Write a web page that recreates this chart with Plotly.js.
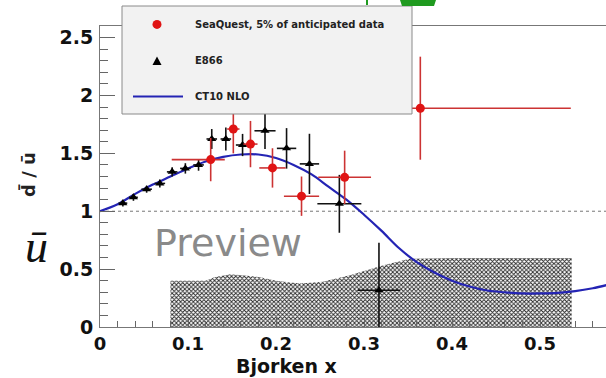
<!DOCTYPE html>
<html><head><meta charset="utf-8">
<script src="https://cdn.plot.ly/plotly-3.0.1.min.js"></script>
<style>html,body{margin:0;padding:0;background:#fff;overflow:hidden}#chart{width:606px;height:378px}</style>
</head><body><div id="chart"></div>
<script>
// ---- E866 (black triangles)
const e866X     = [0.026, 0.038, 0.053, 0.068, 0.082, 0.097, 0.112, 0.127, 0.143, 0.162, 0.1875, 0.212, 0.238, 0.272, 0.317];
const e866Y     = [1.07, 1.12, 1.19, 1.24, 1.34, 1.37, 1.40, 1.624, 1.624, 1.572, 1.695, 1.543, 1.409, 1.064, 0.318];
const e866YErr  = [0.03, 0.03, 0.03, 0.035, 0.04, 0.045, 0.05, 0.086, 0.10, 0.096, 0.158, 0.175, 0.26, 0.25, 0.41];
const e866XErr  = [0.005, 0.005, 0.006, 0.006, 0.006, 0.006, 0.006, 0.006, 0.006, 0.0076, 0.012, 0.011, 0.011, 0.025, 0.024];

// ---- SeaQuest (red circles)
const sqX        = [0.1258, 0.1515, 0.171, 0.196, 0.229, 0.278, 0.364];
const sqY        = [1.446, 1.71, 1.58, 1.374, 1.13, 1.293, 1.89];
const sqYErr     = [0.187, 0.21, 0.20, 0.17, 0.17, 0.23, 0.445];
const sqXErrMinus= [0.0443, 0.007, 0.008, 0.015, 0.02, 0.03, 0.051];
const sqXErrPlus = [0.016, 0.007, 0.008, 0.015, 0.02, 0.03, 0.171];

// ---- CT10 NLO curve
const ctX = [0, 0.02, 0.04, 0.06, 0.08, 0.10, 0.12, 0.14, 0.16, 0.18, 0.20, 0.22, 0.24, 0.26, 0.28, 0.30, 0.32, 0.34, 0.36, 0.38, 0.40, 0.42, 0.44, 0.46, 0.48, 0.50, 0.52, 0.54, 0.56, 0.58];
const ctY = [1.0, 1.06, 1.15, 1.23, 1.30, 1.37, 1.43, 1.47, 1.49, 1.49, 1.46, 1.40, 1.32, 1.21, 1.10, 0.97, 0.83, 0.68, 0.56, 0.47, 0.40, 0.35, 0.315, 0.30, 0.29, 0.29, 0.295, 0.31, 0.335, 0.37];

// ---- systematic band (hatched)
const bandX   = [0.080, 0.10, 0.12, 0.13, 0.148, 0.165, 0.182, 0.20, 0.227, 0.253, 0.284, 0.322, 0.352, 0.40, 0.45, 0.50, 0.536];
const bandTop = [0.40, 0.40, 0.40, 0.43, 0.456, 0.445, 0.43, 0.40, 0.376, 0.39, 0.447, 0.534, 0.59, 0.595, 0.595, 0.595, 0.595];

// ---- axes / labels
const xRange = [0, 0.575];
const yRange = [0, 2.6];
const refLevel = 1;
const legendLabels = ["SeaQuest, 5% of anticipated data", "E866", "CT10 NLO"];

// geometry helpers (pixel -> paper) for legend decoration
const M = {l:100, r:0, t:26, b:51};
const W = 606, H = 378;
const PW = W - M.l - M.r, PH = H - M.t - M.b;
const px = p => (p - M.l) / PW;
const py = p => (H - M.b - p) / PH;

const fam = "DejaVu Sans, sans-serif";
const B = (size, color) => ({family:fam, size:size, color:color || '#111', weight:'bold'});

const traces = [
  {x: bandX, y: bandTop, type:'scatter', mode:'lines', fill:'tozeroy',
   line:{width:0, color:'rgba(0,0,0,0)'},
   fillpattern:{shape:'x', fgcolor:'#262626', bgcolor:'#ffffff', size:3, solidity:0.5},
   hoverinfo:'skip', showlegend:false},
  {x: ctX, y: ctY, type:'scatter', mode:'lines', line:{color:'#2424b4', width:2.2, shape:'spline'}, showlegend:false},
  {x: e866X, y: e866Y, type:'scatter', mode:'markers',
   marker:{symbol:'triangle-up', size:8, color:'#000'},
   error_y:{type:'data', array:e866YErr, visible:true, thickness:1.6, width:0, color:'#111'},
   error_x:{type:'data', array:e866XErr, visible:true, thickness:1.6, width:0, color:'#111'},
   showlegend:false},
  {x: sqX, y: sqY, type:'scatter', mode:'markers',
   marker:{symbol:'circle', size:9, color:'#e01414'},
   error_y:{type:'data', array:sqYErr, visible:true, thickness:1.6, width:0, color:'#cc3333'},
   error_x:{type:'data', symmetric:false, array:sqXErrPlus, arrayminus:sqXErrMinus, visible:true, thickness:1.6, width:0, color:'#cc3333'},
   showlegend:false}
];

const layout = {
  width: W, height: H,
  margin: M,
  paper_bgcolor:'#fff', plot_bgcolor:'#fff',
  showlegend:false,
  xaxis:{range:xRange, dtick:0.1, tick0:0, ticks:'inside', ticklen:10, tickwidth:1, tickcolor:'#666',
         showline:true, linecolor:'#777', linewidth:1, mirror:true, showgrid:false, zeroline:false,
         tickfont:B(18), ticklabelstandoff:0,
         minor:{ticks:'inside', ticklen:6, dtick:0.02, tickcolor:'#666', showgrid:false}},
  yaxis:{range:yRange, dtick:0.5, tick0:0, ticks:'inside', ticklen:15, tickwidth:1, tickcolor:'#666',
         showline:true, linecolor:'#777', linewidth:1, showgrid:false, zeroline:false,
         tickfont:B(19), ticklabelstandoff:2,
         minor:{ticks:'inside', ticklen:8, dtick:0.1, tickcolor:'#666', showgrid:false}},
  shapes:[
    {type:'line', xref:'paper', x0:0, x1:1, yref:'y', y0:refLevel, y1:refLevel,
     line:{color:'#777', width:1, dash:'dot'}, layer:'below'},
    // legend box
    {type:'rect', xref:'paper', yref:'paper', x0:px(122), x1:px(412), y0:py(114), y1:py(6),
     fillcolor:'#f2f2f2', line:{color:'#8a8a8a', width:1}, layer:'above'},
    {type:'circle', xref:'paper', yref:'paper', x0:px(152.5), x1:px(161.5), y0:py(28.9), y1:py(19.9),
     fillcolor:'#e01414', line:{width:0}, layer:'above'},
    {type:'path', xref:'paper', yref:'paper',
     path:`M ${px(157)} ${py(56.5)} L ${px(161.5)} ${py(65)} L ${px(152.5)} ${py(65)} Z`,
     fillcolor:'#000', line:{width:0}, layer:'above'},
    {type:'line', xref:'paper', yref:'paper', x0:px(133), x1:px(183), y0:py(96.6), y1:py(96.6),
     line:{color:'#2424b4', width:2}, layer:'above'},
    // cropped green fragment from the slide above (top edge)
    {type:'path', xref:'paper', yref:'paper',
     path:`M ${px(400)} ${py(0)} L ${px(436)} ${py(0)} L ${px(434)} ${py(6)} L ${px(402)} ${py(6)} Z`,
     fillcolor:'#1f9a1f', line:{width:0}, layer:'above'},
    {type:'line', xref:'paper', yref:'paper', x0:px(367), x1:px(367), y0:py(0), y1:py(5),
     line:{color:'#1f9a1f', width:2}, layer:'above'}
  ],
  annotations:[
    {xref:'paper', yref:'paper', x:px(193), y:py(24.4), xanchor:'left', yanchor:'middle', showarrow:false,
     text:legendLabels[0], font:B(10, '#222')},
    {xref:'paper', yref:'paper', x:px(193), y:py(61), xanchor:'left', yanchor:'middle', showarrow:false,
     text:legendLabels[1], font:B(10, '#222')},
    {xref:'paper', yref:'paper', x:px(193), y:py(96.6), xanchor:'left', yanchor:'middle', showarrow:false,
     text:legendLabels[2], font:B(10, '#222')},
    // axis titles
    {xref:'paper', yref:'paper', x:px(286), y:py(366), xanchor:'center', yanchor:'middle', showarrow:false,
     text:'Bjorken x', font:B(19)},
    {xref:'paper', yref:'paper', x:px(28), y:py(175), xanchor:'center', yanchor:'middle', showarrow:false,
     textangle:-90, text:'d̄ / ū', font:B(18, '#222')},
    // watermark
    {xref:'paper', yref:'paper', x:px(228), y:py(243), xanchor:'center', yanchor:'middle', showarrow:false,
     text:'Preview', font:{family:fam, size:38, color:'#8a8a8a'}},
    // cropped slide fragment on the left
    {xref:'paper', yref:'paper', x:px(36), y:py(246), xanchor:'center', yanchor:'middle', showarrow:false,
     text:'ū', font:{family:'Liberation Serif, serif', size:46, color:'#111', style:'italic'}}
  ]
};

Plotly.newPlot('chart', traces, layout, {displayModeBar:false, staticPlot:true});
</script>
</body></html>
